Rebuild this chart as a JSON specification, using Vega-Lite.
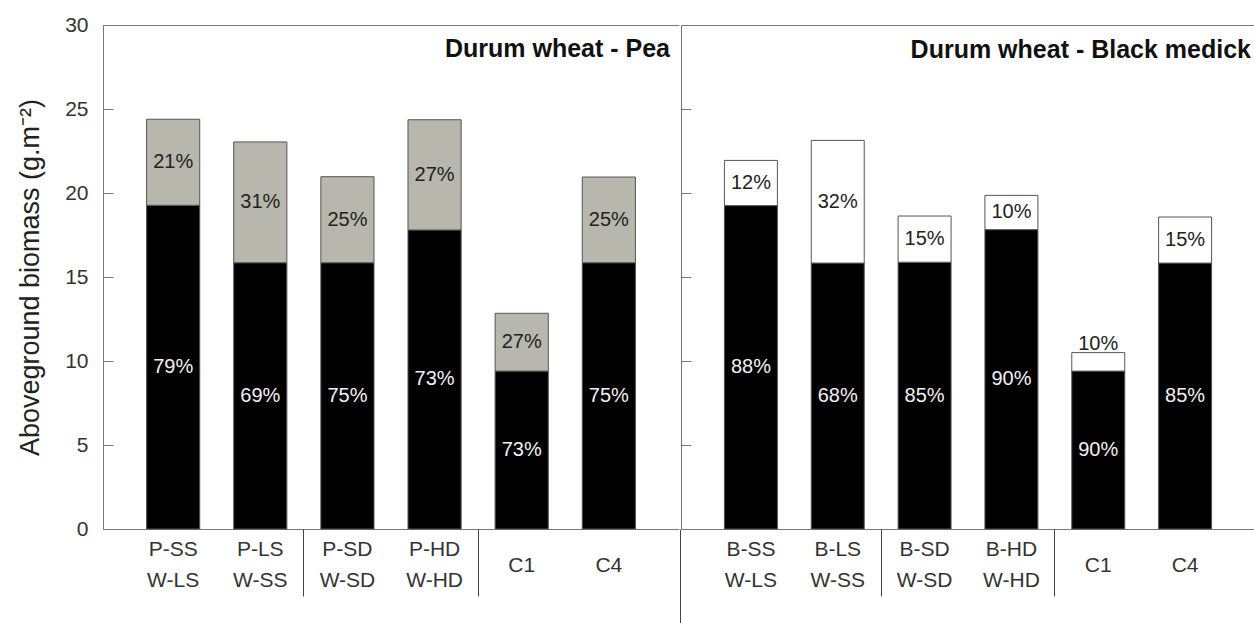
{
  "$schema": "https://vega.github.io/schema/vega-lite/v6.json",
  "padding": {"left": 16, "top": 14, "right": 0, "bottom": 0},
  "spacing": 0,
  "background": "white",
  "config": {
    "view": {"stroke": null},
    "font": "Liberation Sans",
    "axis": {"domainColor": "#777777", "tickColor": "#777777", "labelColor": "#333333", "titleColor": "#222222", "grid": false, "labelFont": "Liberation Sans", "titleFont": "Liberation Sans"},
    "axisY": {"tickSize": -10, "labelPadding": 25, "labelFontSize": 21, "titleFontSize": 27, "titleFontWeight": "normal", "titlePadding": 20, "tickCount": 6},
    "title": {"font": "Liberation Sans"}
  },
  "datasets": {
    "pea": [
      {"cat": "P-SS|W-LS", "part": "wheat", "value": 19.27, "pct": "79%"},
      {"cat": "P-SS|W-LS", "part": "pea", "value": 5.12, "pct": "21%"},
      {"cat": "P-LS|W-SS", "part": "wheat", "value": 15.85, "pct": "69%"},
      {"cat": "P-LS|W-SS", "part": "pea", "value": 7.19, "pct": "31%"},
      {"cat": "P-SD|W-SD", "part": "wheat", "value": 15.85, "pct": "75%"},
      {"cat": "P-SD|W-SD", "part": "pea", "value": 5.12, "pct": "25%"},
      {"cat": "P-HD|W-HD", "part": "wheat", "value": 17.8, "pct": "73%"},
      {"cat": "P-HD|W-HD", "part": "pea", "value": 6.56, "pct": "27%"},
      {"cat": "C1", "part": "wheat", "value": 9.4, "pct": "73%"},
      {"cat": "C1", "part": "pea", "value": 3.44, "pct": "27%"},
      {"cat": "C4", "part": "wheat", "value": 15.85, "pct": "75%"},
      {"cat": "C4", "part": "pea", "value": 5.1, "pct": "25%"}
    ],
    "med": [
      {"cat": "B-SS|W-LS", "part": "wheat", "value": 19.25, "pct": "88%"},
      {"cat": "B-SS|W-LS", "part": "medick", "value": 2.69, "pct": "12%"},
      {"cat": "B-LS|W-SS", "part": "wheat", "value": 15.83, "pct": "68%"},
      {"cat": "B-LS|W-SS", "part": "medick", "value": 7.3, "pct": "32%"},
      {"cat": "B-SD|W-SD", "part": "wheat", "value": 15.88, "pct": "85%"},
      {"cat": "B-SD|W-SD", "part": "medick", "value": 2.75, "pct": "15%"},
      {"cat": "B-HD|W-HD", "part": "wheat", "value": 17.82, "pct": "90%"},
      {"cat": "B-HD|W-HD", "part": "medick", "value": 2.04, "pct": "10%"},
      {"cat": "C1", "part": "wheat", "value": 9.4, "pct": "90%"},
      {"cat": "C1", "part": "medick", "value": 1.1, "pct": "10%"},
      {"cat": "C4", "part": "wheat", "value": 15.83, "pct": "85%"},
      {"cat": "C4", "part": "medick", "value": 2.74, "pct": "15%"}
    ]
  },
  "resolve": {"scale": {"x": "independent", "y": "independent"}},
  "hconcat": [
    {
      "width": 576,
      "height": 504,
      "data": {"name": "pea"},
      "title": {"text": "Durum wheat - Pea", "anchor": "end", "frame": "group", "orient": "top", "offset": -48, "dx": -9, "fontSize": 25, "fontWeight": "bold", "color": "#111111"},
      "transform": [
        {"stack": "value", "groupby": ["cat"], "sort": [{"field": "part", "order": "descending"}], "as": ["y0", "y1"]},
        {"calculate": "(datum.y0 + datum.y1) / 2", "as": "mid"},
        {"calculate": "datum.y1 - datum.y0", "as": "h"}
      ],
      "resolve": {"axis": {"x": "independent"}},
      "layer": [
        {
          "mark": {"type": "bar", "stroke": "#555555", "strokeWidth": 1},
          "encoding": {
            "x": {"field": "cat", "type": "nominal", "sort": null, "scale": {"paddingInner": 0.39, "paddingOuter": 0.5},
              "axis": {"orient": "bottom", "values": ["P-SS|W-LS", "P-LS|W-SS", "P-SD|W-SD", "P-HD|W-HD"], "title": null, "labelAngle": 0, "ticks": false, "labelExpr": "split(datum.label, '|')", "labelFontSize": 21, "labelLineHeight": 31, "labelBaseline": "middle", "labelPadding": 20}},
            "y": {"field": "y0", "type": "quantitative", "title": "Aboveground biomass (g.m⁻²)", "scale": {"domain": [0, 30], "nice": false}},
            "y2": {"field": "y1"},
            "color": {"field": "part", "type": "nominal", "scale": {"domain": ["wheat", "pea", "medick"], "range": ["#000000", "#b7b7ad", "#ffffff"]}, "legend": null}
          }
        },
        {
          "transform": [{"filter": "datum.h >= 1.5"}],
          "mark": {"type": "text", "fontSize": 20, "baseline": "middle"},
          "encoding": {
            "x": {"field": "cat", "type": "nominal", "sort": null, "scale": {"paddingInner": 0.39, "paddingOuter": 0.5},
              "axis": {"orient": "bottom", "values": ["C1", "C4"], "title": null, "labelAngle": 0, "ticks": false, "domain": false, "labelFontSize": 21, "labelBaseline": "middle", "labelPadding": 36}},
            "y": {"field": "mid", "type": "quantitative", "title": "Aboveground biomass (g.m⁻²)", "scale": {"domain": [0, 30], "nice": false}},
            "text": {"field": "pct"},
            "color": {"condition": {"test": "datum.part === 'wheat'", "value": "#f2f2f2"}, "value": "#222222"}
          }
        },
        {
          "mark": {"type": "text", "text": ""},
          "encoding": {
            "x": {"field": "cat", "type": "nominal", "sort": null, "scale": {"paddingInner": 0.39, "paddingOuter": 0.5},
              "axis": {"orient": "bottom", "values": ["P-LS|W-SS", "P-HD|W-HD"], "bandPosition": 1.32, "tickSize": 67, "tickColor": "#444444", "labels": false, "domain": false, "title": null}}
          }
        },
        {
          "mark": {"type": "text", "text": ""},
          "encoding": {
            "x": {"field": "cat", "type": "nominal", "sort": null, "scale": {"paddingInner": 0.39, "paddingOuter": 0.5},
              "axis": {"orient": "top", "ticks": false, "labels": false, "domain": true, "title": null}}
          }
        }
      ]
    },
    {
      "width": 574,
      "height": 504,
      "data": {"name": "med"},
      "title": {"text": "Durum wheat - Black medick", "anchor": "end", "frame": "group", "orient": "top", "offset": -38, "dx": -4, "fontSize": 25, "fontWeight": "bold", "color": "#111111"},
      "transform": [
        {"stack": "value", "groupby": ["cat"], "sort": [{"field": "part", "order": "descending"}], "as": ["y0", "y1"]},
        {"calculate": "(datum.y0 + datum.y1) / 2", "as": "mid"},
        {"calculate": "datum.y1 - datum.y0", "as": "h"}
      ],
      "resolve": {"axis": {"x": "independent"}},
      "layer": [
        {
          "mark": {"type": "bar", "stroke": "#555555", "strokeWidth": 1},
          "encoding": {
            "x": {"field": "cat", "type": "nominal", "sort": null, "scale": {"paddingInner": 0.39, "paddingOuter": 0.5},
              "axis": {"orient": "bottom", "values": ["B-SS|W-LS", "B-LS|W-SS", "B-SD|W-SD", "B-HD|W-HD"], "title": null, "labelAngle": 0, "ticks": false, "labelExpr": "split(datum.label, '|')", "labelFontSize": 21, "labelLineHeight": 31, "labelBaseline": "middle", "labelPadding": 20}},
            "y": {"field": "y0", "type": "quantitative", "scale": {"domain": [0, 30], "nice": false}, "axis": {"labels": false, "title": null}},
            "y2": {"field": "y1"},
            "color": {"field": "part", "type": "nominal", "scale": {"domain": ["wheat", "pea", "medick"], "range": ["#000000", "#b7b7ad", "#ffffff"]}, "legend": null}
          }
        },
        {
          "transform": [{"filter": "datum.h >= 1.5"}],
          "mark": {"type": "text", "fontSize": 20, "baseline": "middle"},
          "encoding": {
            "x": {"field": "cat", "type": "nominal", "sort": null, "scale": {"paddingInner": 0.39, "paddingOuter": 0.5},
              "axis": {"orient": "bottom", "values": ["C1", "C4"], "title": null, "labelAngle": 0, "ticks": false, "domain": false, "labelFontSize": 21, "labelBaseline": "middle", "labelPadding": 36}},
            "y": {"field": "mid", "type": "quantitative", "scale": {"domain": [0, 30], "nice": false}, "axis": {"labels": false, "title": null}},
            "text": {"field": "pct"},
            "color": {"condition": {"test": "datum.part === 'wheat'", "value": "#f2f2f2"}, "value": "#222222"}
          }
        },
        {
          "transform": [{"filter": "datum.h < 1.5"}],
          "mark": {"type": "text", "fontSize": 20, "baseline": "bottom", "dy": 1},
          "encoding": {
            "x": {"field": "cat", "type": "nominal", "sort": null, "scale": {"paddingInner": 0.39, "paddingOuter": 0.5},
              "axis": {"orient": "bottom", "values": ["B-SD|W-SD", "C1"], "bandPosition": -0.32, "tickSize": 67, "tickColor": "#444444", "labels": false, "domain": false, "title": null}},
            "y": {"field": "y1", "type": "quantitative", "scale": {"domain": [0, 30], "nice": false}, "axis": {"labels": false, "title": null}},
            "text": {"field": "pct"},
            "color": {"value": "#222222"}
          }
        },
        {
          "mark": {"type": "text", "text": ""},
          "encoding": {
            "x": {"field": "cat", "type": "nominal", "sort": null, "scale": {"paddingInner": 0.39, "paddingOuter": 0.5},
              "axis": {"orient": "bottom", "values": ["B-SS|W-LS"], "bandPosition": -0.82, "tickSize": 95, "tickColor": "#444444", "labels": false, "domain": false, "title": null}}
          }
        },
        {
          "mark": {"type": "text", "text": ""},
          "encoding": {
            "x": {"field": "cat", "type": "nominal", "sort": null, "scale": {"paddingInner": 0.39, "paddingOuter": 0.5},
              "axis": {"orient": "top", "ticks": false, "labels": false, "domain": true, "title": null}}
          }
        }
      ]
    }
  ]
}
